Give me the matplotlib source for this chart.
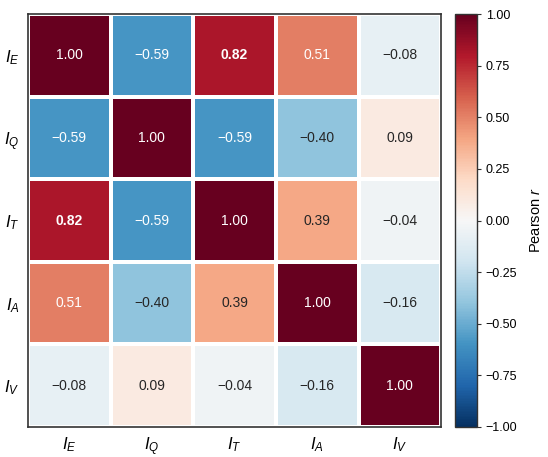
import numpy as np
import matplotlib
matplotlib.use("Agg")
import matplotlib.pyplot as plt

labels = [r"$I_E$", r"$I_Q$", r"$I_T$", r"$I_A$", r"$I_V$"]
corr = [
    [1.00, -0.59, 0.82, 0.51, -0.08],
    [-0.59, 1.00, -0.59, -0.40, 0.09],
    [0.82, -0.59, 1.00, 0.39, -0.04],
    [0.51, -0.40, 0.39, 1.00, -0.16],
    [-0.08, 0.09, -0.04, -0.16, 1.00],
]
bold_cells = [(0, 2), (2, 0)]
cbar_ticks = [-1.0, -0.75, -0.5, -0.25, 0.0, 0.25, 0.5, 0.75, 1.0]

plt.rcParams['font.family'] = ['Liberation Sans', 'DejaVu Sans']
plt.rcParams['mathtext.fontset'] = 'custom'
plt.rcParams['mathtext.it'] = 'Liberation Sans:italic'
plt.rcParams['mathtext.rm'] = 'Liberation Sans'

data = np.array(corr)
n = len(labels)
fig = plt.figure(figsize=(5.48, 4.57), dpi=100)
ax = fig.add_axes([0.051, 0.066, 0.754, 0.903])
cax = fig.add_axes([0.830, 0.066, 0.040, 0.903])

cmap = plt.get_cmap('RdBu_r')
mesh = ax.pcolormesh(np.arange(n + 1), np.arange(n + 1), data, cmap=cmap,
                     vmin=-1, vmax=1, edgecolor='white', linewidth=1.5)
ax.set_xlim(0, n)
ax.set_ylim(n, 0)
ax.set_xticks(np.arange(n) + 0.5)
ax.set_yticks(np.arange(n) + 0.5)
ax.set_xticklabels(labels, fontsize=12)
ax.set_yticklabels(labels, fontsize=12, rotation=0)
ax.tick_params(length=0, pad=6)
for s in ax.spines.values():
    s.set_color('#333333')
    s.set_linewidth(1.2)

for i in range(n):
    for j in range(n):
        v = data[i, j]
        txt = f"{v:.2f}".replace('-', '\u2212')
        color = 'white' if abs(v) > 0.45 else '#262626'
        weight = 'bold' if (i, j) in bold_cells else 'normal'
        ax.text(j + 0.5, i + 0.5, txt, ha='center', va='center',
                fontsize=10, color=color, fontweight=weight)

cb = fig.colorbar(mesh, cax=cax, ticks=cbar_ticks)
cb.ax.set_yticklabels([f"{t:.2f}".replace('-', '\u2212') for t in cbar_ticks])
cb.ax.tick_params(labelsize=9, length=3, color='#333333')
cb.outline.set_edgecolor('#333333')
cb.outline.set_linewidth(1.0)
cb.set_label(r"Pearson $r$", fontsize=10.5, labelpad=8)

fig.savefig("out.png", dpi=100)
